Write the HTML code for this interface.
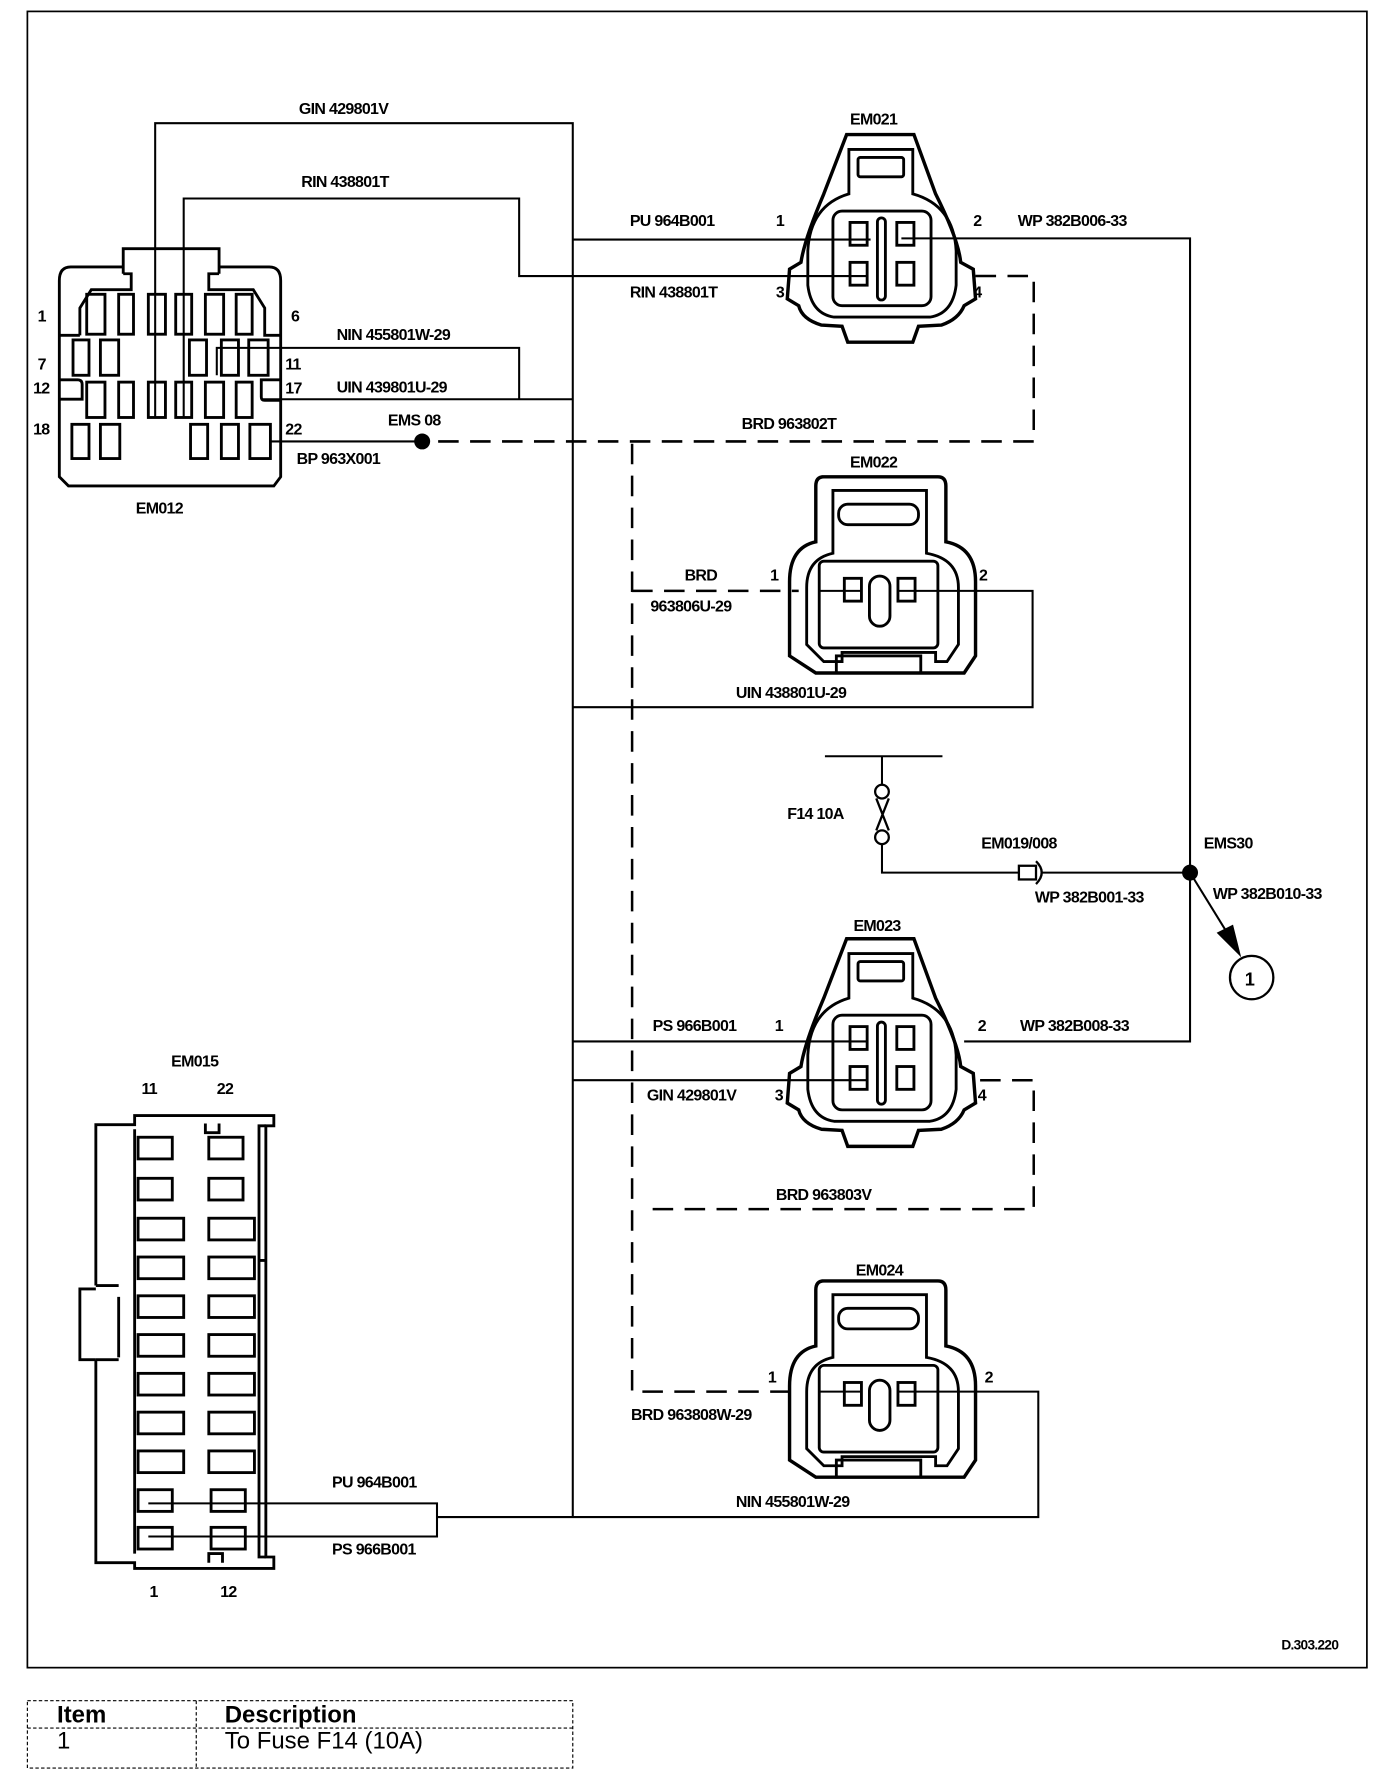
<!DOCTYPE html>
<html><head><meta charset="utf-8"><style>
html,body{margin:0;padding:0;background:#fff}
svg{display:block}
text{font-family:"Liberation Sans",Arial,sans-serif;font-weight:bold;font-size:14px;fill:#000;letter-spacing:-0.6px}
</style></head><body>
<svg width="1392" height="1784" viewBox="0 0 1220 1564" preserveAspectRatio="none" xmlns="http://www.w3.org/2000/svg">
<defs>
<g id="c4">
 <path d="M742 118 L801 118 L820 170 Q840 210 842 230 L853 236 L855 262 L845 268 Q840 280 825 285 L805 286 L800 300 L743 300 L738 286 L720 285 Q703 280 700 268 L690 262 L692 236 L702 230 Q705 210 722 170 Z" fill="none" stroke="#000" stroke-width="3"/>
 <path d="M744 131 L800 131 L800 170 Q836 180 838 220 L838 250 Q835 275 815 278 L731 278 Q711 275 708 250 L708 220 Q710 180 744 170 Z" fill="none" stroke="#000" stroke-width="2.5"/>
 <rect x="752" y="138" width="40" height="17" rx="2" fill="none" stroke="#000" stroke-width="2.5"/>
 <rect x="730" y="185" width="86" height="83" rx="8" fill="none" stroke="#000" stroke-width="2.5"/>
 <rect x="745" y="195" width="15" height="20" fill="none" stroke="#000" stroke-width="2.5"/>
 <rect x="786" y="195" width="15" height="20" fill="none" stroke="#000" stroke-width="2.5"/>
 <rect x="745" y="230" width="15" height="20" fill="none" stroke="#000" stroke-width="2.5"/>
 <rect x="786" y="230" width="15" height="20" fill="none" stroke="#000" stroke-width="2.5"/>
 <rect x="769" y="191" width="7" height="72" rx="3.5" fill="none" stroke="#000" stroke-width="2.5"/>
</g>
<g id="c2">
 <path d="M720 418 L822 418 Q829 418 829 426 L829 475 Q855 480 855 510 L855 575 L845 590 L715 590 L692 575 L692 510 Q692 480 715 475 L715 426 Q715 418 722 418 Z" fill="none" stroke="#000" stroke-width="3"/>
 <path d="M730 430 L812 430 L812 485 Q840 490 840 515 L840 565 L830 580 L820 580 L820 572 L738 572 L738 580 L722 580 L707 565 L707 515 Q707 490 730 485 Z" fill="none" stroke="#000" stroke-width="2.5"/>
 <rect x="735" y="442" width="70" height="18" rx="8" fill="none" stroke="#000" stroke-width="2.5"/>
 <rect x="718" y="492" width="104" height="76" rx="4" fill="none" stroke="#000" stroke-width="2.5"/>
 <rect x="740" y="507" width="15" height="20" fill="none" stroke="#000" stroke-width="2.5"/>
 <rect x="787" y="507" width="15" height="20" fill="none" stroke="#000" stroke-width="2.5"/>
 <rect x="762" y="505" width="18" height="44" rx="9" fill="none" stroke="#000" stroke-width="2.5"/>
 <rect x="733" y="575" width="74" height="15" fill="none" stroke="#000" stroke-width="2.5"/>
</g>
</defs>

<!-- border -->
<rect x="24" y="10" width="1174" height="1452" fill="none" stroke="#000" stroke-width="1.5"/>
<text x="1123" y="1446" style="font-size:12px">D.303.220</text>

<!-- EM012 -->
<g fill="none" stroke="#000" stroke-width="2.5">
 <path d="M108 234 L62 234 Q52 234 52 246 L52 418 L60 426 L240 426 L246 418 L246 246 Q246 234 236 234 L192 234"/>
 <path d="M108 240 L108 218 L192 218 L192 240"/>
 <path d="M108 240 L115 240 L115 254 L80 254 L70 270 L70 294"/>
 <path d="M192 240 L183 240 L183 254 L222 254 L232 270 L232 294 L246 294"/>
 <path d="M52 294 L70 294"/>
 <rect x="76" y="258" width="16" height="35"/><rect x="104" y="258" width="13" height="35"/><rect x="130" y="258" width="15" height="35"/><rect x="154" y="258" width="14" height="35"/><rect x="180" y="258" width="16" height="35"/><rect x="207" y="258" width="14" height="35"/>
 <rect x="64" y="298" width="14" height="31"/><rect x="88" y="298" width="16" height="31"/><rect x="166" y="298" width="15" height="31"/><rect x="194" y="298" width="15" height="31"/><rect x="218" y="298" width="17" height="31"/>
 <rect x="76" y="335" width="16" height="31"/><rect x="104" y="335" width="13" height="31"/><rect x="130" y="335" width="15" height="31"/><rect x="154" y="335" width="14" height="31"/><rect x="180" y="335" width="16" height="31"/><rect x="207" y="335" width="14" height="31"/>
 <path d="M52 333 L68 333 Q72 333 72 337 L72 350 L52 350"/><path d="M246 333 L229 333 L229 348 Q229 351 232 351 L246 351"/>
 <rect x="63" y="372" width="15" height="30"/><rect x="88" y="372" width="17" height="30"/><rect x="167" y="372" width="15" height="30"/><rect x="194" y="372" width="15" height="30"/><rect x="219" y="372" width="18" height="30"/>
</g>
<text x="33" y="282">1</text><text x="255" y="282">6</text>
<text x="33" y="324">7</text><text x="250" y="324">11</text>
<text x="29" y="345">12</text><text x="250" y="345">17</text>
<text x="29" y="381">18</text><text x="250" y="381">22</text>
<text x="119" y="450">EM012</text>

<!-- wires -->
<g fill="none" stroke="#000" stroke-width="1.8">
 <path d="M136 366 L136 108 L502 108 L502 1330"/>
 <path d="M161 366 L161 174 L455 174 L455 242 L760 242"/>
 <path d="M502 210 L763 210"/>
 <path d="M190 329 L190 305 L455 305 L455 350"/>
 <path d="M229 350 L502 350"/>
 <path d="M237 387 L370 387"/>
 <path d="M790 209 L1043 209 L1043 913 L845 913"/>
 <path d="M502 913 L760 913"/>
 <path d="M502 947 L760 947"/>
 <path d="M787 518 L905 518 L905 620 L502 620"/>
 <path d="M755 518 L718 518"/>
 <path d="M787 1220 L910 1220 L910 1330 L383 1330"/>
 <path d="M755 1220 L718 1220"/>
 <path d="M130 1318 L383 1318 L383 1347 L130 1347"/>
 <path d="M723 663 L826 663"/>
 <path d="M773 663 L773 688"/>
 <path d="M773 740 L773 765 L893 765"/>
 <path d="M913 765 L1043 765"/>
 <path d="M1043 765 L1080 825"/>
</g>
<g fill="none" stroke="#000" stroke-width="2.2" stroke-dasharray="18,10">
 <path d="M384 387 L906 387 L906 242 L850 242"/>
 <path d="M554 389 L554 1220 L700 1220"/>
 <path d="M554 518 L700 518"/>
 <path d="M572 1060 L906 1060 L906 947 L850 947"/>
</g>
<circle cx="370" cy="387" r="7" fill="#000"/>
<circle cx="1043" cy="765" r="7" fill="#000"/>
<path d="M1086 836 L1068 818 L1080 812 Z" fill="#000" stroke="#000" stroke-width="2"/>
<circle cx="1097" cy="857" r="19" fill="none" stroke="#000" stroke-width="2"/>
<text x="1091" y="864" style="font-size:16px">1</text>
<!-- fuse -->
<g fill="none" stroke="#000" stroke-width="2">
 <circle cx="773" cy="694" r="6"/><circle cx="773" cy="734" r="6"/>
 <path d="M768 700 L779 728 M779 700 L768 728"/>
 <rect x="893" y="759" width="15" height="12"/>
 <path d="M908 755 Q918 765 908 775"/>
</g>

<use href="#c4"/>
<use href="#c4" transform="translate(0,705)"/>
<use href="#c2"/>
<use href="#c2" transform="translate(0,705)"/>

<!-- EM015 -->
<g fill="none" stroke="#000" stroke-width="2.5">
 <path d="M84 1127 L84 986 L118 986 L118 978 L240 978 L240 987 L233 987 L233 1365 L240 1365 L240 1375 L118 1375 L118 1370 L84 1370 L84 1192"/>
 <path d="M118 990 L118 1362 M104 1190 L104 1137"/>
 <path d="M84 1130 L70 1130 L70 1192 L84 1192"/>
 <path d="M104 1127 L84 1127 M104 1192 L84 1192"/>
 <path d="M180 985 L180 993 L192 993 L192 985 M183 1370 L183 1362 L195 1362 L195 1370"/>
 <path d="M233 987 L227 987 L227 1365 L233 1365 M227 1105 L233 1105"/>
 <rect x="121" y="997" width="30" height="19"/><rect x="183" y="997" width="30" height="19"/>
 <rect x="121" y="1033" width="30" height="19"/><rect x="183" y="1033" width="30" height="19"/>
 <rect x="121" y="1068" width="40" height="19"/><rect x="183" y="1068" width="40" height="19"/>
 <rect x="121" y="1102" width="40" height="19"/><rect x="183" y="1102" width="40" height="19"/>
 <rect x="121" y="1136" width="40" height="19"/><rect x="183" y="1136" width="40" height="19"/>
 <rect x="121" y="1170" width="40" height="19"/><rect x="183" y="1170" width="40" height="19"/>
 <rect x="121" y="1204" width="40" height="19"/><rect x="183" y="1204" width="40" height="19"/>
 <rect x="121" y="1238" width="40" height="19"/><rect x="183" y="1238" width="40" height="19"/>
 <rect x="121" y="1272" width="40" height="19"/><rect x="183" y="1272" width="40" height="19"/>
 <rect x="121" y="1306" width="30" height="19"/><rect x="185" y="1306" width="30" height="19"/>
 <rect x="121" y="1339" width="30" height="19"/><rect x="185" y="1339" width="30" height="19"/>
</g>
<text x="150" y="935">EM015</text><text x="124" y="959">11</text><text x="190" y="959">22</text>
<text x="131" y="1400">1</text><text x="193" y="1400">12</text>

<!-- labels -->
<text x="262" y="100">GIN 429801V</text>
<text x="264" y="164">RIN 438801T</text>
<text x="295" y="298">NIN 455801W-29</text>
<text x="295" y="344">UIN 439801U-29</text>
<text x="340" y="373">EMS 08</text>
<text x="260" y="407">BP 963X001</text>
<text x="552" y="198">PU 964B001</text>
<text x="680" y="198">1</text>
<text x="552" y="261">RIN 438801T</text>
<text x="680" y="261">3</text>
<text x="853" y="198">2</text>
<text x="892" y="198">WP 382B006-33</text>
<text x="853" y="261">4</text>
<text x="745" y="109">EM021</text>
<text x="650" y="376">BRD 963802T</text>
<text x="745" y="410">EM022</text>
<text x="600" y="509">BRD</text>
<text x="675" y="509">1</text>
<text x="570" y="536">963806U-29</text>
<text x="858" y="509">2</text>
<text x="645" y="612">UIN 438801U-29</text>
<text x="690" y="718">F14 10A</text>
<text x="860" y="744">EM019/008</text>
<text x="1055" y="744">EMS30</text>
<text x="907" y="791">WP 382B001-33</text>
<text x="1063" y="788">WP 382B010-33</text>
<text x="748" y="816">EM023</text>
<text x="572" y="904">PS 966B001</text>
<text x="679" y="904">1</text>
<text x="857" y="904">2</text>
<text x="894" y="904">WP 382B008-33</text>
<text x="567" y="965">GIN 429801V</text>
<text x="679" y="965">3</text>
<text x="857" y="965">4</text>
<text x="680" y="1052">BRD 963803V</text>
<text x="750" y="1118">EM024</text>
<text x="673" y="1212">1</text>
<text x="863" y="1212">2</text>
<text x="553" y="1245">BRD 963808W-29</text>
<text x="645" y="1321">NIN 455801W-29</text>
<text x="291" y="1304">PU 964B001</text>
<text x="291" y="1363">PS 966B001</text>

<!-- table -->
<g fill="none" stroke="#000" stroke-width="1">
 <rect x="24" y="1491" width="478" height="59" stroke-dasharray="3,2"/>
 <path d="M24 1515 L502 1515 M172 1491 L172 1550" stroke-dasharray="3,2"/>
</g>
<text x="50" y="1510" style="font-size:21px;letter-spacing:0">Item</text>
<text x="197" y="1510" style="font-size:21px;letter-spacing:0">Description</text>
<text x="50" y="1533" style="font-size:21px;font-weight:normal;letter-spacing:0">1</text>
<text x="197" y="1533" style="font-size:21px;font-weight:normal;letter-spacing:0">To Fuse F14 (10A)</text>
</svg>
</body></html>
